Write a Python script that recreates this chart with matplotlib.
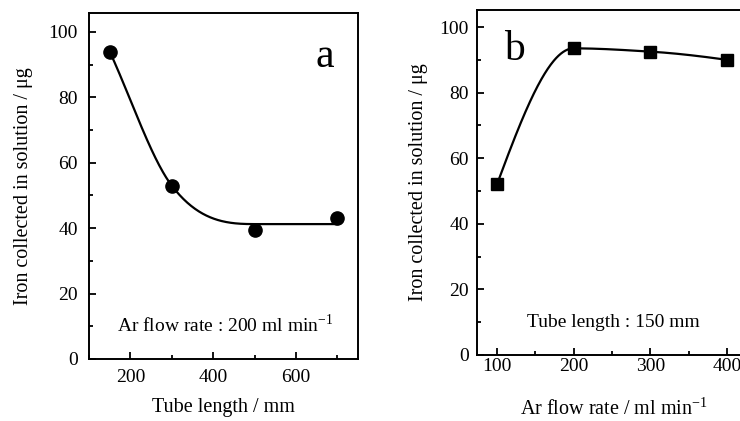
import numpy as np
import matplotlib
matplotlib.use('Agg')
import matplotlib.pyplot as plt
from matplotlib.ticker import MultipleLocator

plt.rcParams['font.family'] = ['Liberation Serif', 'DejaVu Serif']
plt.rcParams['mathtext.fontset'] = 'custom'
plt.rcParams['mathtext.rm'] = 'Liberation Serif'

# panel a: tube length vs iron collected
tube_len = [150, 300, 500, 700]
iron_a = [94, 53, 39.5, 43]
# panel b: Ar flow rate vs iron collected
flow = [100, 200, 300, 400]
iron_b = [52, 93.5, 92.5, 90]


def hermite(x, y, xs, smooth=False):
    # cubic Hermite through (x, y); smooth=True: mean secant slopes + secant ends
    x = np.asarray(x, float); y = np.asarray(y, float)
    h = np.diff(x); d = np.diff(y) / h
    n = len(x); m = np.zeros(n)
    for k in range(1, n - 1):
        if d[k - 1] * d[k] > 0:
            if smooth:
                m[k] = 0.5 * (d[k - 1] + d[k])
            else:
                w1 = 2 * h[k] + h[k - 1]; w2 = h[k] + 2 * h[k - 1]
                m[k] = (w1 + w2) / (w1 / d[k - 1] + w2 / d[k])
    if smooth:
        m[0] = d[0]; m[-1] = d[-1]
    else:
        m[0] = ((2 * h[0] + h[1]) * d[0] - h[0] * d[1]) / (h[0] + h[1])
        if np.sign(m[0]) != np.sign(d[0]):
            m[0] = 0
        m[-1] = ((2 * h[-1] + h[-2]) * d[-1] - h[-1] * d[-2]) / (h[-1] + h[-2])
        if np.sign(m[-1]) != np.sign(d[-1]):
            m[-1] = 0
    out = np.empty_like(xs)
    for i, xv in enumerate(xs):
        k = min(max(np.searchsorted(x, xv) - 1, 0), n - 2)
        t = (xv - x[k]) / h[k]
        out[i] = ((2*t**3 - 3*t**2 + 1) * y[k] + (t**3 - 2*t**2 + t) * h[k] * m[k]
                  + (-2*t**3 + 3*t**2) * y[k+1] + (t**3 - t**2) * h[k] * m[k+1])
    return out


fig = plt.figure(figsize=(7.4, 4.21), dpi=100)
axa = fig.add_axes([0.1203, 0.1473, 0.3635, 0.8218])
axb = fig.add_axes([0.6446, 0.1568, 0.3689, 0.8195])

# trend line for a: levels off at the mean of the two long tubes
plateau = np.mean(iron_a[2:])
knots_a = [iron_a[0], iron_a[1], plateau, plateau]
xs = np.linspace(150, 700, 300)
axa.plot(xs, hermite(tube_len, knots_a, xs, smooth=True), color='k', lw=1.6)
axa.plot(tube_len, iron_a, 'o', color='k', ms=9.5)
axa.set_xlim(100, 750)
axa.set_ylim(0, 105.8)
axa.xaxis.set_major_locator(MultipleLocator(200))
axa.xaxis.set_minor_locator(MultipleLocator(100))
axa.tick_params(axis='x', pad=7)
axa.tick_params(axis='y', pad=8)
axa.set_xlabel('Tube length / mm', fontsize=14.5, labelpad=9)
axa.set_ylabel('Iron collected in solution / \u03bcg', fontsize=14.5, labelpad=11)
axa.text(670, 92.4, 'a', fontsize=30, ha='center', va='center')
axa.text(168, 10.5, r'Ar flow rate : 200 ml min$^{\mathregular{-1}}$', fontsize=14,
         ha='left', va='center')

xs = np.linspace(100, 400, 300)
axb.plot(xs, hermite(flow, iron_b, xs), color='k', lw=1.6)
axb.plot(flow, iron_b, 's', color='k', ms=9)
axb.set_xlim(74, 430)
axb.set_ylim(0, 105.2)
axb.xaxis.set_major_locator(MultipleLocator(100))
axb.xaxis.set_minor_locator(MultipleLocator(50))
axb.tick_params(axis='x', pad=2)
axb.tick_params(axis='y', pad=6)
axb.set_xlabel(r'Ar flow rate / ml min$^{\mathregular{-1}}$', fontsize=14.5, labelpad=17)
axb.set_ylabel('Iron collected in solution / \u03bcg', fontsize=14.5, labelpad=8)
axb.text(123, 93, 'b', fontsize=30, ha='center', va='center')
axb.text(139, 10, 'Tube length : 150 mm', fontsize=14, ha='left', va='center')

for ax in (axa, axb):
    ax.yaxis.set_major_locator(MultipleLocator(20))
    ax.yaxis.set_minor_locator(MultipleLocator(10))
    ax.tick_params(which='both', direction='in', top=False, right=False,
                   labelsize=14, width=1.3)
    ax.tick_params(which='major', length=5)
    ax.tick_params(which='minor', length=3)
    for s in ax.spines.values():
        s.set_linewidth(1.4)

fig.savefig('out.png', dpi=100)
